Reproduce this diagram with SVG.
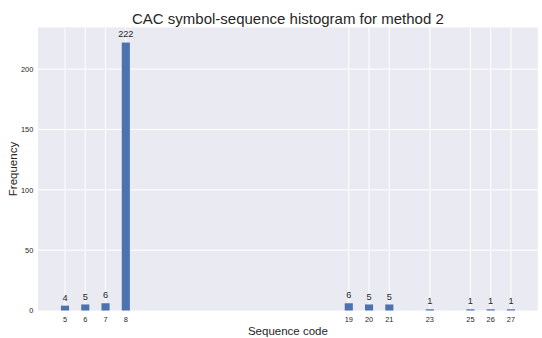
<svg xmlns="http://www.w3.org/2000/svg" width="542" height="338" viewBox="0 0 542 338">
<style>
text{font-family:"Liberation Sans",Arial,sans-serif;fill:#262626}
.grid line{stroke:#ffffff;stroke-width:1}
.bar{fill:#4C72B0}
.tick{font-size:7.4px}
.ytick{text-anchor:end}
.xtick{text-anchor:middle}
.val{font-size:9.2px;text-anchor:middle}
</style>
<rect width="542" height="338" fill="#ffffff"/>
<rect x="38" y="27.5" width="499.8" height="283" fill="#EAEAF2"/>
<g class="grid">
<line x1="38" y1="250.15" x2="537.8" y2="250.15"/>
<line x1="38" y1="189.8" x2="537.8" y2="189.8"/>
<line x1="38" y1="129.45" x2="537.8" y2="129.45"/>
<line x1="38" y1="69.1" x2="537.8" y2="69.1"/>
<line x1="65" y1="27.5" x2="65" y2="310.5"/>
<line x1="85.27" y1="27.5" x2="85.27" y2="310.5"/>
<line x1="105.54" y1="27.5" x2="105.54" y2="310.5"/>
<line x1="125.81" y1="27.5" x2="125.81" y2="310.5"/>
<line x1="348.78" y1="27.5" x2="348.78" y2="310.5"/>
<line x1="369.05" y1="27.5" x2="369.05" y2="310.5"/>
<line x1="389.32" y1="27.5" x2="389.32" y2="310.5"/>
<line x1="429.86" y1="27.5" x2="429.86" y2="310.5"/>
<line x1="470.4" y1="27.5" x2="470.4" y2="310.5"/>
<line x1="490.67" y1="27.5" x2="490.67" y2="310.5"/>
<line x1="510.94" y1="27.5" x2="510.94" y2="310.5"/>
</g>
<g id="bars">
<rect class="bar" x="60.95" y="305.67" width="8.1" height="4.83"/>
<rect class="bar" x="81.22" y="304.46" width="8.1" height="6.04"/>
<rect class="bar" x="101.49" y="303.26" width="8.1" height="7.24"/>
<rect class="bar" x="121.76" y="42.55" width="8.1" height="267.95"/>
<rect class="bar" x="344.73" y="303.26" width="8.1" height="7.24"/>
<rect class="bar" x="365.0" y="304.46" width="8.1" height="6.04"/>
<rect class="bar" x="385.27" y="304.46" width="8.1" height="6.04"/>
<rect class="bar" x="425.81" y="309.29" width="8.1" height="1.21"/>
<rect class="bar" x="466.35" y="309.29" width="8.1" height="1.21"/>
<rect class="bar" x="486.62" y="309.29" width="8.1" height="1.21"/>
<rect class="bar" x="506.89" y="309.29" width="8.1" height="1.21"/>
</g>
<g id="values">
<text class="val" x="65" y="300.7">4</text>
<text class="val" x="85.27" y="299.5">5</text>
<text class="val" x="105.54" y="298.3">6</text>
<text class="val" x="125.81" y="36.5">222</text>
<text class="val" x="348.78" y="298.3">6</text>
<text class="val" x="369.05" y="299.5">5</text>
<text class="val" x="389.32" y="299.5">5</text>
<text class="val" x="429.86" y="304.3">1</text>
<text class="val" x="470.4" y="304.3">1</text>
<text class="val" x="490.67" y="304.3">1</text>
<text class="val" x="510.94" y="304.3">1</text>
</g>
<g id="yticks" class="tick ytick">
<text x="33.3" y="313.2">0</text>
<text x="33.3" y="252.8">50</text>
<text x="33.3" y="192.5">100</text>
<text x="33.3" y="132.1">150</text>
<text x="33.3" y="71.8">200</text>
</g>
<g id="xticks" class="tick xtick">
<text x="65" y="321.7">5</text>
<text x="85.27" y="321.7">6</text>
<text x="105.54" y="321.7">7</text>
<text x="125.81" y="321.7">8</text>
<text x="348.78" y="321.7">19</text>
<text x="369.05" y="321.7">20</text>
<text x="389.32" y="321.7">21</text>
<text x="429.86" y="321.7">23</text>
<text x="470.4" y="321.7">25</text>
<text x="490.67" y="321.7">26</text>
<text x="510.94" y="321.7">27</text>
</g>
<text x="287.9" y="24" font-size="15" text-anchor="middle">CAC symbol-sequence histogram for method 2</text>
<text x="287.9" y="334.5" font-size="11.5" text-anchor="middle">Sequence code</text>
<text transform="translate(16.5,169) rotate(-90)" font-size="11.5" text-anchor="middle">Frequency</text>
</svg>
